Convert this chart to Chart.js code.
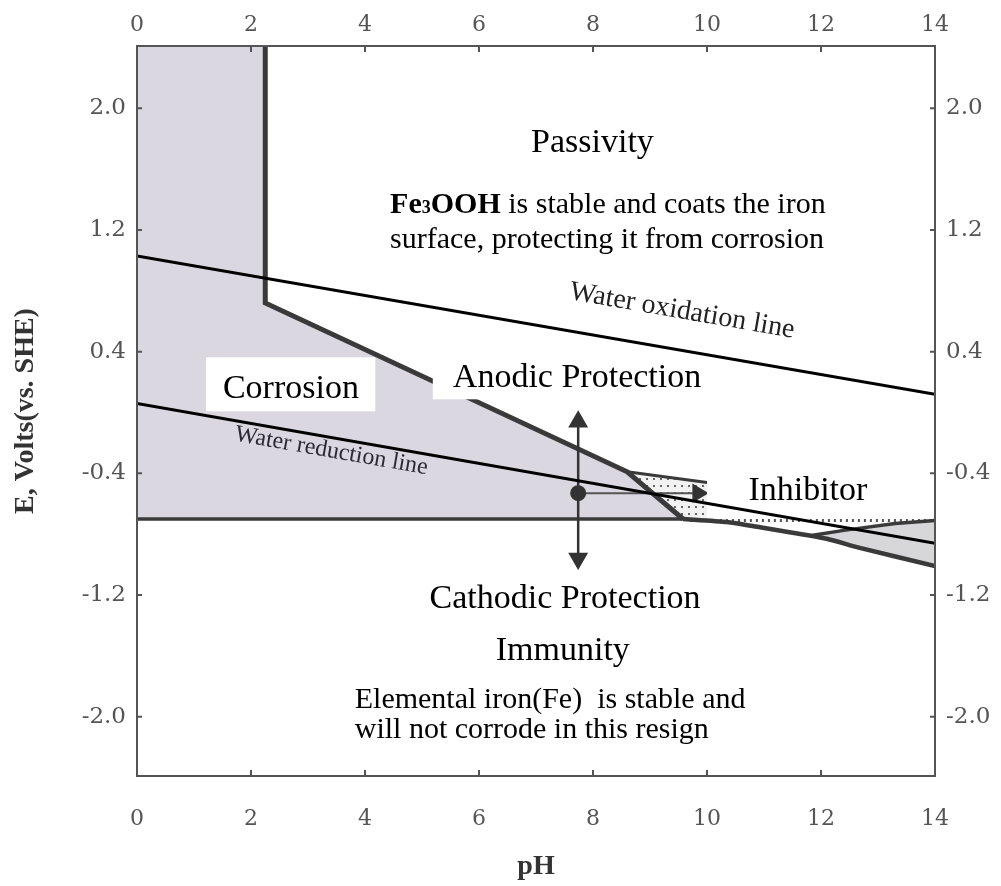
<!DOCTYPE html>
<html>
<head>
<meta charset="utf-8">
<title>Pourbaix diagram of iron</title>
<script src="https://cdn.jsdelivr.net/npm/chart.js@4.4.1/dist/chart.umd.min.js"></script>
<style>
  html, body { margin: 0; padding: 0; background: #fff; }
  #wrap { width: 1001px; height: 886px; position: relative; }
</style>
</head>
<body>
<div id="wrap"><canvas id="pourbaix"></canvas></div>
<script>
// axes
const phTicks = [0, 2, 4, 6, 8, 10, 12, 14];
const eTicks = [-2.0, -1.2, -0.4, 0.4, 1.2, 2.0];
const phRange = [0, 14];
const eRange = [-2.39, 2.41];

// water stability lines
const oxidationPH = [0, 14];
const oxidationE = [1.03, 0.12];
const reductionPH = [0, 14];
const reductionE = [0.06, -0.86];

// corrosion field and its edges
const corrosionPH = [0, 2.25, 2.25, 8.6, 9.58];
const corrosionE = [2.41, 2.41, 0.72, -0.39, -0.70];
const passiveEdgePH = [2.25, 2.25, 8.6, 9.58];
const passiveEdgeE = [2.41, 0.72, -0.39, -0.70];
const immunityPH = [0, 9.58];
const immunityE = [-0.70, -0.70];

// high pH side
const lowerEdgePH = [9.58, 10.35, 10.93, 11.5, 12.1, 12.68, 14];
const lowerEdgeE = [-0.70, -0.72, -0.755, -0.79, -0.83, -0.89, -1.01];
const wedgePH = [11.8, 12.4, 13.3, 14];
const wedgeE = [-0.81, -0.775, -0.73, -0.71];
const filmPH = [9.7, 14];
const filmE = [-0.71, -0.71];
const inhibitorPH = [8.6, 10.0];
const inhibitorE = [-0.39, -0.46];

// protection arrows
const vArrowPH = [7.74, 7.74];
const vArrowE = [-0.06, -0.96];
const hArrowPH = [7.74, 9.84];
const hArrowE = [-0.53, -0.53];

const pts = (xs, ys) => xs.map((v, i) => ({x: v, y: ys[i]}));

const SERIF = '"Liberation Serif", "Times New Roman", serif';
const EDGE = '#3a3a3a';

function dotPattern() {
  const c = document.createElement('canvas');
  c.width = 7; c.height = 7;
  const g = c.getContext('2d');
  g.fillStyle = '#f2f2f2';
  g.fillRect(0, 0, 7, 7);
  g.fillStyle = '#666';
  g.fillRect(2, 2, 2, 2);
  return g.createPattern(c, 'repeat');
}

// white boxes behind some labels (pH range, E range)
const boxes = [
  {ph: [1.21, 4.18], e: [0.363, 0.008]},
  {ph: [5.19, 10.05], e: [0.376, 0.087]},
  {ph: [10.0, 13.56], e: [-0.327, -0.676]}
];

// text notes, anchored at baseline in data units
const notes = [
  {parts: [['Passivity']], ph: 7.99, e: 1.711, size: 34, align: 'center'},
  {parts: [['Fe', 'b'], ['3', 'sub'], ['OOH', 'b'], [' is stable and coats the iron']], ph: 4.44, e: 1.310, size: 30},
  {parts: [['surface, protecting it from corrosion']], ph: 4.44, e: 1.080, size: 30},
  {parts: [['Water oxidation line']], ph: 9.54, e: 0.619, size: 28, align: 'center', color: '#222', along: [oxidationPH, oxidationE]},
  {parts: [['Corrosion']], ph: 2.70, e: 0.093, size: 34, align: 'center'},
  {parts: [['Anodic Protection']], ph: 7.72, e: 0.166, size: 34, align: 'center'},
  {parts: [['Water reduction line']], ph: 3.39, e: -0.295, size: 24, align: 'center', color: '#2e2933', along: [reductionPH, reductionE]},
  {parts: [['Inhibitor']], ph: 11.77, e: -0.577, size: 34, align: 'center'},
  {parts: [['Cathodic Protection']], ph: 7.51, e: -1.287, size: 34, align: 'center'},
  {parts: [['Immunity']], ph: 7.47, e: -1.629, size: 34, align: 'center'},
  {parts: [['Elemental iron(Fe)  is stable and']], ph: 3.82, e: -1.945, size: 30},
  {parts: [['will not corrode in this resign']], ph: 3.82, e: -2.142, size: 30}
];

function partFont(kind, size) {
  if (kind === 'b') return 'bold ' + size + 'px ' + SERIF;
  if (kind === 'sub') return 'bold ' + Math.round(size * 0.6) + 'px ' + SERIF;
  return size + 'px ' + SERIF;
}

const notesPlugin = {
  id: 'notes',
  afterDatasetDraw(chart, args) {
    if (args.index !== 2) return;
    const {ctx, scales: {x, y}} = chart;
    ctx.save();
    ctx.fillStyle = '#fff';
    boxes.forEach(b => {
      const x0 = x.getPixelForValue(b.ph[0]), x1 = x.getPixelForValue(b.ph[1]);
      const y0 = y.getPixelForValue(b.e[0]), y1 = y.getPixelForValue(b.e[1]);
      ctx.fillRect(x0, y0, x1 - x0, y1 - y0);
    });
    ctx.restore();
  },
  afterDatasetsDraw(chart) {
    const {ctx, scales: {x, y}} = chart;
    ctx.save();
    ctx.textBaseline = 'alphabetic';
    ctx.textAlign = 'left';
    notes.forEach(n => {
      let w = 0;
      n.parts.forEach(p => { ctx.font = partFont(p[1], n.size); w += ctx.measureText(p[0]).width; });
      const px = x.getPixelForValue(n.ph), py = y.getPixelForValue(n.e);
      let angle = 0;
      if (n.along) {
        const [xs, ys] = n.along;
        const dx = x.getPixelForValue(xs[1]) - x.getPixelForValue(xs[0]);
        const dy = y.getPixelForValue(ys[1]) - y.getPixelForValue(ys[0]);
        angle = Math.atan2(dy, dx);
      }
      ctx.save();
      ctx.translate(px, py);
      ctx.rotate(angle);
      ctx.fillStyle = n.color || '#000';
      let cx = n.align === 'center' ? -w / 2 : 0;
      n.parts.forEach(p => {
        ctx.font = partFont(p[1], n.size);
        ctx.fillText(p[0], cx, 0);
        cx += ctx.measureText(p[0]).width;
      });
      ctx.restore();
    });
    ctx.restore();
  },
  afterDraw(chart) {
    // short inward tick marks on all four sides
    const {ctx, chartArea: a} = chart;
    ctx.save();
    ctx.strokeStyle = '#555';
    ctx.lineWidth = 2;
    ctx.beginPath();
    Object.values(chart.scales).forEach(s => {
      s.ticks.forEach(t => {
        const p = s.getPixelForValue(t.value);
        if (s.position === 'bottom') { ctx.moveTo(p, a.bottom); ctx.lineTo(p, a.bottom - 6); }
        if (s.position === 'top') { ctx.moveTo(p, a.top); ctx.lineTo(p, a.top + 6); }
        if (s.position === 'left') { ctx.moveTo(a.left, p); ctx.lineTo(a.left + 5, p); }
        if (s.position === 'right') { ctx.moveTo(a.right, p); ctx.lineTo(a.right - 5, p); }
      });
    });
    ctx.stroke();
    ctx.restore();
  }
};

const border = {display: true, color: '#555', width: 2, z: 1};
const setTicks = list => s => { s.ticks = list.map(v => ({value: v})); };

function xAxis(position, height, padding, title) {
  return {
    type: 'linear', position, min: phRange[0], max: phRange[1],
    afterBuildTicks: setTicks(phTicks),
    afterFit: s => { s.height = height; },
    grid: {display: false, drawTicks: false},
    border,
    ticks: {font: {family: '"DejaVu Serif", serif', size: 22}, color: '#555', padding, maxRotation: 0,
      callback: v => String(v)},
    title
  };
}

function yAxis(position, width, padding, title) {
  return {
    type: 'linear', position, min: eRange[0], max: eRange[1],
    afterBuildTicks: setTicks(eTicks),
    afterFit: s => { s.width = width; },
    grid: {display: false, drawTicks: false},
    border,
    ticks: {font: {family: '"DejaVu Serif", serif', size: 23}, color: '#555', padding,
      callback: v => v.toFixed(1)},
    title
  };
}

new Chart(document.getElementById('pourbaix'), {
  type: 'line',
  data: {
    datasets: [
      {data: pts(oxidationPH, oxidationE), borderColor: '#000', borderWidth: 3},
      {data: pts(reductionPH, reductionE), borderColor: '#000', borderWidth: 3},
      {data: pts(vArrowPH, vArrowE), borderColor: '#333', borderWidth: 2.5,
        pointStyle: 'triangle', pointRadius: 9, pointRotation: [0, 180],
        pointBackgroundColor: '#333', pointBorderColor: '#333'},
      {data: pts(hArrowPH, hArrowE), borderColor: '#555', borderWidth: 2,
        pointStyle: ['circle', 'triangle'], pointRadius: [7, 9], pointRotation: [0, 90],
        pointBackgroundColor: '#333', pointBorderColor: '#333'},
      {data: pts(passiveEdgePH, passiveEdgeE), borderColor: EDGE, borderWidth: 5},
      {data: pts(immunityPH, immunityE), borderColor: EDGE, borderWidth: 3.5},
      {data: pts(corrosionPH, corrosionE), borderWidth: 0, borderColor: 'rgba(0,0,0,0)',
        fill: {value: immunityE[0]}, backgroundColor: 'rgb(219,215,224)'},
      {data: pts(lowerEdgePH, lowerEdgeE), borderColor: EDGE, borderWidth: 4.5, tension: 0.2},
      {data: pts(wedgePH, wedgeE), borderColor: EDGE, borderWidth: 3.5,
        fill: '-1', backgroundColor: 'rgb(215,215,217)'},
      {data: pts(filmPH, filmE), borderColor: '#555', borderWidth: 3, borderDash: [2, 4]},
      {data: pts(inhibitorPH, inhibitorE), borderColor: EDGE, borderWidth: 3,
        fill: {value: immunityE[0]}, backgroundColor: dotPattern()}
    ]
  },
  options: {
    responsive: true,
    maintainAspectRatio: false,
    animation: false,
    events: [],
    layout: {padding: 0},
    elements: {point: {radius: 0, hoverRadius: 0}, line: {borderCapStyle: 'butt', borderJoinStyle: 'miter'}},
    plugins: {legend: {display: false}, tooltip: {enabled: false}},
    scales: {
      x: xAxis('bottom', 110, 30, {display: true, text: 'pH', color: '#333',
        font: {family: SERIF, size: 28, weight: 'bold'}, padding: {top: 0, bottom: 2}}),
      x2: xAxis('top', 46, 8, {display: false}),
      y: yAxis('left', 137, 11, {display: true, text: 'E, Volts(vs. SHE)', color: '#333',
        font: {family: SERIF, size: 28, weight: 'bold'}, padding: {top: 9, bottom: 0}}),
      y2: yAxis('right', 66, 11, {display: false})
    }
  },
  plugins: [notesPlugin]
});
</script>
</body>
</html>
